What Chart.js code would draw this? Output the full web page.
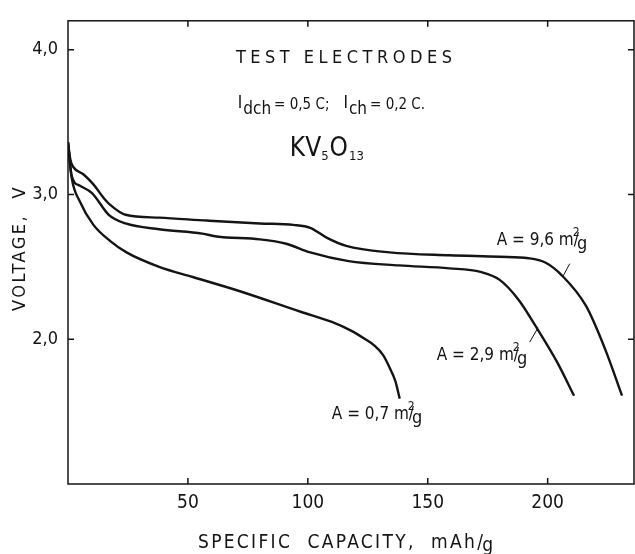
<!DOCTYPE html>
<html>
<head>
<meta charset="utf-8">
<script src="https://cdn.jsdelivr.net/npm/chart.js@4.4.1/dist/chart.umd.min.js"></script>
<style>
  body { margin: 0; background: #fff; }
  canvas { display: block; }
</style>
</head>
<body>
<canvas id="chart" width="635" height="554"></canvas>
<script>
// specific capacity (mAh/g) and voltage (V)
const capHigh = [0, 1, 2.2, 6.4, 10.6, 14.7, 17.5, 24, 38, 58, 80, 94, 101, 108, 116, 134, 159, 180, 192, 199, 206, 216, 224, 231];
const voltHigh = [3.36, 3.24, 3.19, 3.14, 3.07, 2.98, 2.93, 2.86, 2.84, 2.82, 2.80, 2.79, 2.77, 2.70, 2.645, 2.60, 2.58, 2.57, 2.56, 2.53, 2.44, 2.23, 1.93, 1.61];

const capMid = [0, 1.5, 5, 10, 17, 24, 38, 56, 62, 80, 91, 101, 117, 138, 159, 172, 180, 188, 195, 204, 211];
const voltMid = [3.36, 3.13, 3.06, 3.01, 2.86, 2.80, 2.76, 2.73, 2.71, 2.69, 2.66, 2.60, 2.54, 2.51, 2.49, 2.465, 2.41, 2.27, 2.09, 1.84, 1.61];

const capLow = [0, 1.5, 5, 10.6, 17.5, 24.4, 38, 52, 72, 97, 110, 118, 124, 127.5, 131.4, 134.2, 136.5, 138.3];
const voltLow = [3.36, 3.12, 2.95, 2.79, 2.68, 2.60, 2.50, 2.43, 2.33, 2.19, 2.12, 2.06, 2.00, 1.96, 1.89, 1.80, 1.71, 1.59];

const seriesNames = ['9,6', '2,9', '0,7'];
const xTicks = [50, 100, 150, 200];
const yTicks = [2, 3, 4];

const FONT = '"Liberation Sans Narrow", "DejaVu Sans Condensed", "DejaVu Sans", sans-serif';
const INK = '#141414';

function toPoints(xs, ys) {
    return xs.map((v, i) => ({ x: v, y: ys[i] }));
}

function lineSet(label, xs, ys) {
    return {
        label: label,
        data: toPoints(xs, ys),
        borderColor: INK,
        borderWidth: 2.4,
        pointRadius: 0,
        fill: false,
        cubicInterpolationMode: 'monotone'
    };
}

// draw text pieces left to right: [text, size, dy, gap]
function rich(ctx, parts, x, y) {
    let cx = x;
    parts.forEach(p => {
        ctx.font = p[1] + 'px ' + FONT;
        ctx.fillText(p[0], cx, y + (p[2] || 0));
        cx += ctx.measureText(p[0]).width + (p[3] || 0);
    });
}

const decor = {
    id: 'decor',
    afterDraw(chart) {
        const { ctx, chartArea: a, scales: { x, y } } = chart;
        ctx.save();
        ctx.strokeStyle = INK;
        ctx.lineWidth = 1.5;
        ctx.strokeRect(a.left, a.top, a.right - a.left, a.bottom - a.top);

        // ticks point into the frame
        ctx.beginPath();
        xTicks.forEach(v => {
            const px = x.getPixelForValue(v);
            ctx.moveTo(px, a.bottom); ctx.lineTo(px, a.bottom - 6);
            ctx.moveTo(px, a.top); ctx.lineTo(px, a.top + 6);
        });
        yTicks.forEach(v => {
            const py = y.getPixelForValue(v);
            ctx.moveTo(a.left, py); ctx.lineTo(a.left + 6, py);
            ctx.moveTo(a.right, py); ctx.lineTo(a.right - 6, py);
        });
        ctx.stroke();

        ctx.fillStyle = INK;
        ctx.textAlign = 'left';
        ctx.textBaseline = 'alphabetic';

        // header
        ctx.letterSpacing = '4.5px';
        ctx.font = '18px ' + FONT;
        ctx.fillText('TEST ELECTRODES', x.getPixelForValue(70), y.getPixelForValue(3.91));
        ctx.letterSpacing = '0px';

        const by = y.getPixelForValue(3.59);
        rich(ctx, [['I', 17, -1, 1], ['dch', 17, 5, 3], ['= 0,5 C;', 15, 0, 14], ['I', 17, -1, 1], ['ch', 17, 5, 3], ['= 0,2 C.', 15, 0]],
            x.getPixelForValue(70.8), by);

        rich(ctx, [['KV', 26, 0], ['5', 13, 4, 1], ['O', 26, 0, 1], ['13', 13, 4]],
            x.getPixelForValue(92.5), y.getPixelForValue(3.266));

        // curve labels
        const labels = [
            [seriesNames[0], 178.75, 2.65],
            [seriesNames[1], 153.75, 1.857],
            [seriesNames[2], 110, 1.45]
        ];
        labels.forEach(l => {
            const lx = x.getPixelForValue(l[1]);
            const ly = y.getPixelForValue(l[2]);
            ctx.font = '17px ' + FONT;
            const head = 'A = ' + l[0] + ' m';
            ctx.fillText(head, lx, ly);
            const w = ctx.measureText(head).width;
            ctx.fillText('/', lx + w, ly);
            const sw = ctx.measureText('/').width;
            ctx.font = '12px ' + FONT;
            ctx.fillText('2', lx + w - 1, ly - 9);
            ctx.font = '18px ' + FONT;
            ctx.fillText('g', lx + w + sw - 2, ly + 4);
        });

        // leader lines
        ctx.lineWidth = 1;
        ctx.beginPath();
        ctx.moveTo(x.getPixelForValue(209.2), y.getPixelForValue(2.522));
        ctx.lineTo(x.getPixelForValue(206.25), y.getPixelForValue(2.431));
        ctx.moveTo(x.getPixelForValue(196), y.getPixelForValue(2.08));
        ctx.lineTo(x.getPixelForValue(192.5), y.getPixelForValue(1.98));
        ctx.stroke();

        // axis titles
        ctx.letterSpacing = '2.5px';
        ctx.font = '18px ' + FONT;
        ctx.textAlign = 'center';
        ctx.save();
        ctx.translate(a.left - 48, y.getPixelForValue(2.63));
        ctx.rotate(-Math.PI / 2);
        ctx.textBaseline = 'middle';
        ctx.fillText('VOLTAGE,  V', 0, 0);
        ctx.restore();

        ctx.letterSpacing = '2.3px';
        ctx.font = '19px ' + FONT;
        ctx.textAlign = 'left';
        const tx = x.getPixelForValue(54.2);
        const ty = a.bottom + 64;
        ctx.fillText('SPECIFIC  CAPACITY,  mAh/', tx, ty);
        const tw = ctx.measureText('SPECIFIC  CAPACITY,  mAh/').width;
        ctx.fillText('g', tx + tw - 3, ty + 3);
        ctx.restore();
    }
};

new Chart(document.getElementById('chart'), {
    type: 'line',
    data: {
        datasets: [
            lineSet('A = 9,6 m2/g', capHigh, voltHigh),
            lineSet('A = 2,9 m2/g', capMid, voltMid),
            lineSet('A = 0,7 m2/g', capLow, voltLow)
        ]
    },
    options: {
        responsive: false,
        animation: false,
        devicePixelRatio: 1,
        layout: { padding: { top: 13, right: 1, left: 0, bottom: 0 } },
        plugins: { legend: { display: false }, tooltip: { enabled: false } },
        scales: {
            x: {
                type: 'linear',
                min: 0,
                max: 236,
                grid: { display: false, drawTicks: false },
                border: { display: false },
                afterBuildTicks: s => { s.ticks = xTicks.map(v => ({ value: v })); },
                afterFit: s => { s.height = 70; },
                ticks: {
                    color: INK,
                    padding: 8,
                    font: { family: FONT, size: 19 },
                    maxRotation: 0
                }
            },
            y: {
                type: 'linear',
                min: 1.0,
                max: 4.2,
                grid: { display: false, drawTicks: false },
                border: { display: false },
                afterBuildTicks: s => { s.ticks = yTicks.map(v => ({ value: v })); },
                afterFit: s => { s.width = 68; },
                ticks: {
                    color: INK,
                    padding: 10,
                    font: { family: FONT, size: 18 },
                    callback: v => v.toFixed(1).replace('.', ',')
                }
            }
        }
    },
    plugins: [decor]
});
</script>
</body>
</html>
